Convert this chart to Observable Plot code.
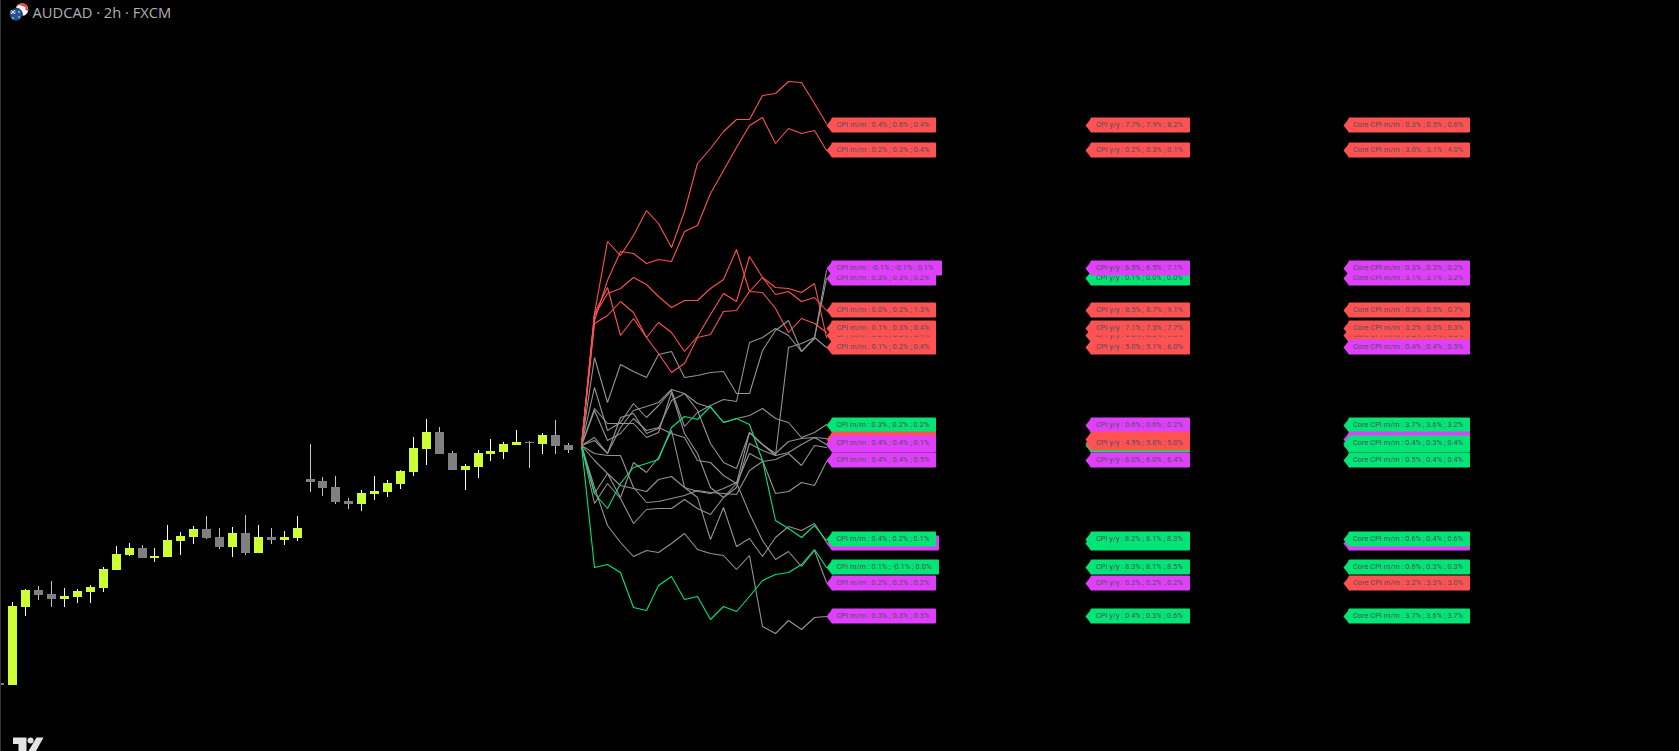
<!DOCTYPE html>
<html>
<head>
<meta charset="utf-8">
<script src="https://cdn.jsdelivr.net/npm/d3@7"></script>
<script src="https://cdn.jsdelivr.net/npm/@observablehq/plot@0.6"></script>
<style>
html,body{margin:0;padding:0;background:#000;overflow:hidden}
#wrap{position:relative;width:1679px;height:751px}
#edge{position:absolute;left:0;top:0;width:1px;height:751px;background:#363636}
.ico{position:absolute;left:0;top:0;pointer-events:none}
</style>
</head>
<body>
<div id="wrap"></div>
<script>
// Candles: price in points relative to the last session level; bar index starts at -1
const opens  = [-238,-240,-162,-145,-149,-154,-152,-147,-143,-125,-110,-103,-113,-112,-96,-92,-84,-92,-102,-88,-108,-92,-95,-93,-34,-36,-42,-56,-59,-49,-47,-39,-27,-4,13,-8,-25,-22,-9,-7,0,3,1,10,0];
const highs  = [-238,-157,-144,-141,-136,-143,-144,-140,-122,-101,-98,-100,-103,-80,-87,-81,-71,-83,-82,-70,-80,-83,-86,-71,1,-32,-31,-53,-45,-31,-35,-25,8,26,18,-6,-19,-5,6,3,15,4,12,25,2];
const lows   = [-240,-240,-171,-155,-162,-162,-158,-158,-147,-125,-111,-113,-117,-112,-110,-99,-94,-104,-112,-110,-108,-99,-100,-96,-47,-51,-59,-64,-66,-55,-52,-44,-31,-20,-9,-25,-45,-33,-16,-14,0,-23,-9,-9,-8];
const closes = [-240,-161,-145,-150,-154,-151,-146,-142,-124,-109,-103,-113,-111,-95,-91,-84,-93,-102,-88,-108,-92,-95,-92,-83,-37,-43,-57,-59,-48,-46,-38,-26,-3,13,-9,-25,-21,-8,-6,1,3,2,10,-1,-5];

// Projected paths: first bar index, then one value per bar
const pathStart = 44;
const redPaths = [
  [0,132,204,190,210,235,222,198,234,282,297,314,326,326,350,352,364,363,342,322],
  [0,125,165,194,192,182,186,184,214,220,252,275,298,320,328,302,317,312,315,295],
  [0,132,158,110,127,108,123,113,94,109,131,152,144,189,168,158,157,153,162,108],
  [0,122,130,144,133,108,92,73,82,108,111,134,135,154,168,151,154,144,148,135],
  [0,130,152,157,168,161,149,138,145,145,157,166,196,154,153,137,113,127,122,113]
];
const greenPaths = [
  [0,-48,-63,-38,-22,-18,-14,18,29,26,39,23,27,21,-15,-75,-83,-92,-80,-95],
  [0,-122,-119,-127,-162,-165,-140,-131,-154,-151,-174,-161,-166,-151,-135,-129,-127,-119,-104,-122]
];
const grayPaths = [
  [0,88,43,81,74,68,91,94,68,70,73,74,52,52,95,115,125,94,108,98],
  [0,58,15,23,42,28,40,55,19,33,40,46,44,103,108,117,110,94,107,167],
  [0,37,22,22,22,8,13,53,12,-8,-42,-52,-42,2,-5,-10,98,102,108,175],
  [0,8,-8,18,35,39,43,56,52,42,38,23,27,30,37,27,23,8,13,21],
  [0,5,-8,28,32,12,17,45,52,35,2,-17,-23,13,1,-10,-7,1,8,7],
  [0,-8,-10,-10,-42,-57,-56,-53,-50,-45,-47,-48,-49,-25,-16,-14,-8,-20,0,-2],
  [0,-58,-38,-53,-78,-64,-63,-63,-54,-63,-69,-52,-38,13,1,-8,4,7,8,1],
  [0,-48,-28,-40,-43,-46,-34,-31,-42,-46,-48,-43,-37,-68,-95,-114,-106,-121,-105,-137],
  [0,-15,-28,-52,-17,-27,-12,15,-42,-52,-94,-62,-101,-93,-111,-92,-81,-85,-78,-97],
  [0,35,5,12,27,15,18,12,8,-15,-17,-30,-38,-8,-15,-48,-46,-37,-40,-16],
  [0,-42,-80,-97,-111,-105,-107,-98,-88,-104,-108,-110,-124,-110,-181,-188,-175,-184,-172,-171]
];

// Label rows, in the order they are stacked (later rows sit on top)
const rowLevels = [320,295,167,177,135,110,117,98,20,6,0,2,-15,-98,-94,-122,-138,-171];
const cpiMoM = ["0.4% ; 0.6% ; 0.4%","0.2% ; 0.3% ; 0.4%","0.3% ; 0.3% ; 0.2%","-0.1% ; -0.1% ; 0.1%","0.0% ; 0.2% ; 1.3%","0.2% ; 0.3% ; 0.4%","0.1% ; 0.3% ; 0.4%","0.1% ; 0.2% ; 0.4%","0.3% ; 0.2% ; 0.2%","0.3% ; 0.3% ; 0.3%","0.3% ; 0.3% ; 0.2%","0.4% ; 0.4% ; 0.1%","0.4% ; 0.4% ; 0.5%","-0.1% ; 0.0% ; 0.1%","0.4% ; 0.2% ; 0.1%","0.1% ; -0.1% ; 0.0%","0.2% ; 0.2% ; 0.2%","0.3% ; 0.3% ; 0.3%"];
const cpiYoY = ["7.7% ; 7.9% ; 8.2%","0.2% ; 0.3% ; 0.1%","0.1% ; 0.0% ; 0.0%","6.5% ; 6.5% ; 7.1%","8.5% ; 8.7% ; 9.1%","6.0% ; 6.2% ; 6.5%","7.1% ; 7.3% ; 7.7%","5.0% ; 5.1% ; 6.0%","0.6% ; 0.6% ; 0.2%","4.9% ; 5.0% ; 5.1%","8.2% ; 8.1% ; 8.2%","4.9% ; 5.0% ; 5.0%","6.0% ; 6.0% ; 6.4%","8.2% ; 8.1% ; 8.2%","8.2% ; 8.1% ; 8.3%","8.3% ; 8.1% ; 8.5%","0.2% ; 0.2% ; 0.2%","0.4% ; 0.3% ; 0.6%"];
const coreMoM = ["0.3% ; 0.5% ; 0.6%","3.0% ; 3.1% ; 4.0%","3.1% ; 3.1% ; 3.2%","0.3% ; 0.3% ; 0.2%","0.3% ; 0.5% ; 0.7%","0.3% ; 0.4% ; 0.5%","0.2% ; 0.3% ; 0.3%","0.4% ; 0.4% ; 0.5%","3.7% ; 3.6% ; 3.2%","0.4% ; 0.3% ; 0.3%","0.4% ; 0.3% ; 0.4%","0.4% ; 0.3% ; 0.4%","0.5% ; 0.4% ; 0.4%","0.5% ; 0.4% ; 0.5%","0.6% ; 0.4% ; 0.6%","0.6% ; 0.3% ; 0.3%","3.2% ; 3.3% ; 3.0%","3.7% ; 3.6% ; 3.7%"];
const cpiMoMColor  = ["r","r","m","m","r","r","r","r","g","r","m","m","m","m","g","g","m","m"];
const cpiYoYColor  = ["r","r","g","m","r","r","r","r","m","r","g","r","m","g","g","g","m","g"];
const coreMoMColor = ["r","r","m","m","r","r","r","m","g","m","g","g","g","m","g","g","r","g"];

const palette = {r:"#ff5252", m:"#e040fb", g:"#00e676"};
const columns = [
  {name:"CPI m/m",      bar:63,  span:8.5,  dx:10, texts:cpiMoM,  colors:cpiMoMColor},
  {name:"CPI y/y",      bar:83,  span:8.15, dx:10.5, texts:cpiYoY,  colors:cpiYoYColor},
  {name:"Core CPI m/m", bar:103, span:9.81, dx:9.5,  texts:coreMoM, colors:coreMoMColor}
];

const candles = opens.map((o,k)=>({bar:k-1,open:o,high:highs[k],low:lows[k],close:closes[k]}));
const toPath = (vals,group)=>vals.map((v,k)=>({bar:pathStart+k,value:v,group}));
const grayRows  = grayPaths.flatMap((p,k)=>toPath(p,"g"+k));
const greenRows = greenPaths.flatMap((p,k)=>toPath(p,"n"+k));
const redRows   = redPaths.flatMap((p,k)=>toPath(p,"r"+k));

const tip = {draw(c){c.moveTo(0,0);c.lineTo(6,-7.4);c.lineTo(6,7.4);c.closePath();}};
const labelFont = "Roboto, sans-serif";

const labelMarks = rowLevels.flatMap((level,k)=>columns.flatMap(col=>{
  const txt = col.texts[k];
  const minus = (txt.match(/-/g)||[]).length;
  const datum = [{bar:col.bar,bar2:col.bar+col.span+minus*0.22,level,text:col.name+" : "+txt}];
  const fill = palette[col.colors[k]];
  return [
    Plot.rect(datum,{x1:"bar",x2:"bar2",y1:d=>d.level-7.4,y2:d=>d.level+7.4,fill,insetLeft:5.5,rx:1}),
    Plot.dot(datum,{x:"bar",y:"level",symbol:tip,fill}),
    Plot.text(datum,{x:"bar",y:"level",text:"text",dx:col.dx,dy:-1.2,textAnchor:"start",fill:"#50505a",fontSize:7.45,fontFamily:labelFont})
  ];
}));

const chart = Plot.plot({
  width:1679,height:751,
  marginTop:0,marginRight:0,marginBottom:0,marginLeft:0,
  style:{background:"#000",display:"block"},
  x:{domain:[-1,129],range:[-0.613,1679.38],round:true,axis:null},
  y:{domain:[-306,445],range:[751,0],axis:null},
  marks:[
    Plot.ruleX(candles,{x:"bar",y1:"low",y2:"high",stroke:d=>d.close>=d.open?"#ffffff":"#c4c4c4",strokeWidth:1}),
    Plot.ruleX(candles,{x:"bar",y1:"open",y2:"close",stroke:d=>d.close>=d.open?"#ccff33":"#808080",strokeWidth:9}),
    Plot.line(grayRows,{x:"bar",y:"value",z:"group",stroke:"#949494",strokeWidth:1.1,strokeLinejoin:"miter"}),
    Plot.line(greenRows,{x:"bar",y:"value",z:"group",stroke:"#00e676",strokeWidth:1.1,strokeLinejoin:"miter"}),
    Plot.line(redRows,{x:"bar",y:"value",z:"group",stroke:"#ff5252",strokeWidth:1.1,strokeLinejoin:"miter"}),
    ...labelMarks,
    Plot.text(["AUDCAD · 2h · FXCM"],{frameAnchor:"top-left",dx:32,dy:7,text:d=>d,textAnchor:"start",lineAnchor:"top",fill:"#b0b0b6",fontSize:14.7,fontFamily:"'Open Sans', sans-serif"})
  ]
});

const wrap = document.getElementById("wrap");
wrap.appendChild(chart);
const edge = document.createElement("div");edge.id="edge";wrap.appendChild(edge);
const ico = document.createElementNS("http://www.w3.org/2000/svg","svg");
ico.setAttribute("class","ico");ico.setAttribute("width","1679");ico.setAttribute("height","751");
ico.innerHTML = `
<circle cx="22" cy="9.5" r="6.3" fill="#fff"/>
<path d="M17 6 A6.3 6.3 0 0 1 26 4.5 L27.5 8 L20 5 Z" fill="#e8423f"/>
<path d="M25.5 5 A6.3 6.3 0 0 1 28 11 L25.5 10 Z" fill="#e8423f"/>
<circle cx="16" cy="14.5" r="6.5" fill="#24518f" stroke="#000" stroke-width="0.6"/>
<path d="M10 11 H16 V14 H10 Z" fill="#5a74a8"/>
<path d="M11 10 L15 14 M15 10 L11 14" stroke="#e8dede" stroke-width="1"/>
<circle cx="19" cy="12" r="0.8" fill="#fff"/><circle cx="19" cy="17" r="0.8" fill="#fff"/><circle cx="13" cy="18" r="0.8" fill="#fff"/>
<g fill="#e4e4e4">
<path d="M13 737.5 H26.5 V751 H18.5 V744 H13 Z"/>
<circle cx="30.5" cy="740.5" r="3"/>
<path d="M36.5 737.5 H43.5 L36 751 H28.5 Z"/>
</g>`;
wrap.appendChild(ico);
</script>
</body>
</html>
